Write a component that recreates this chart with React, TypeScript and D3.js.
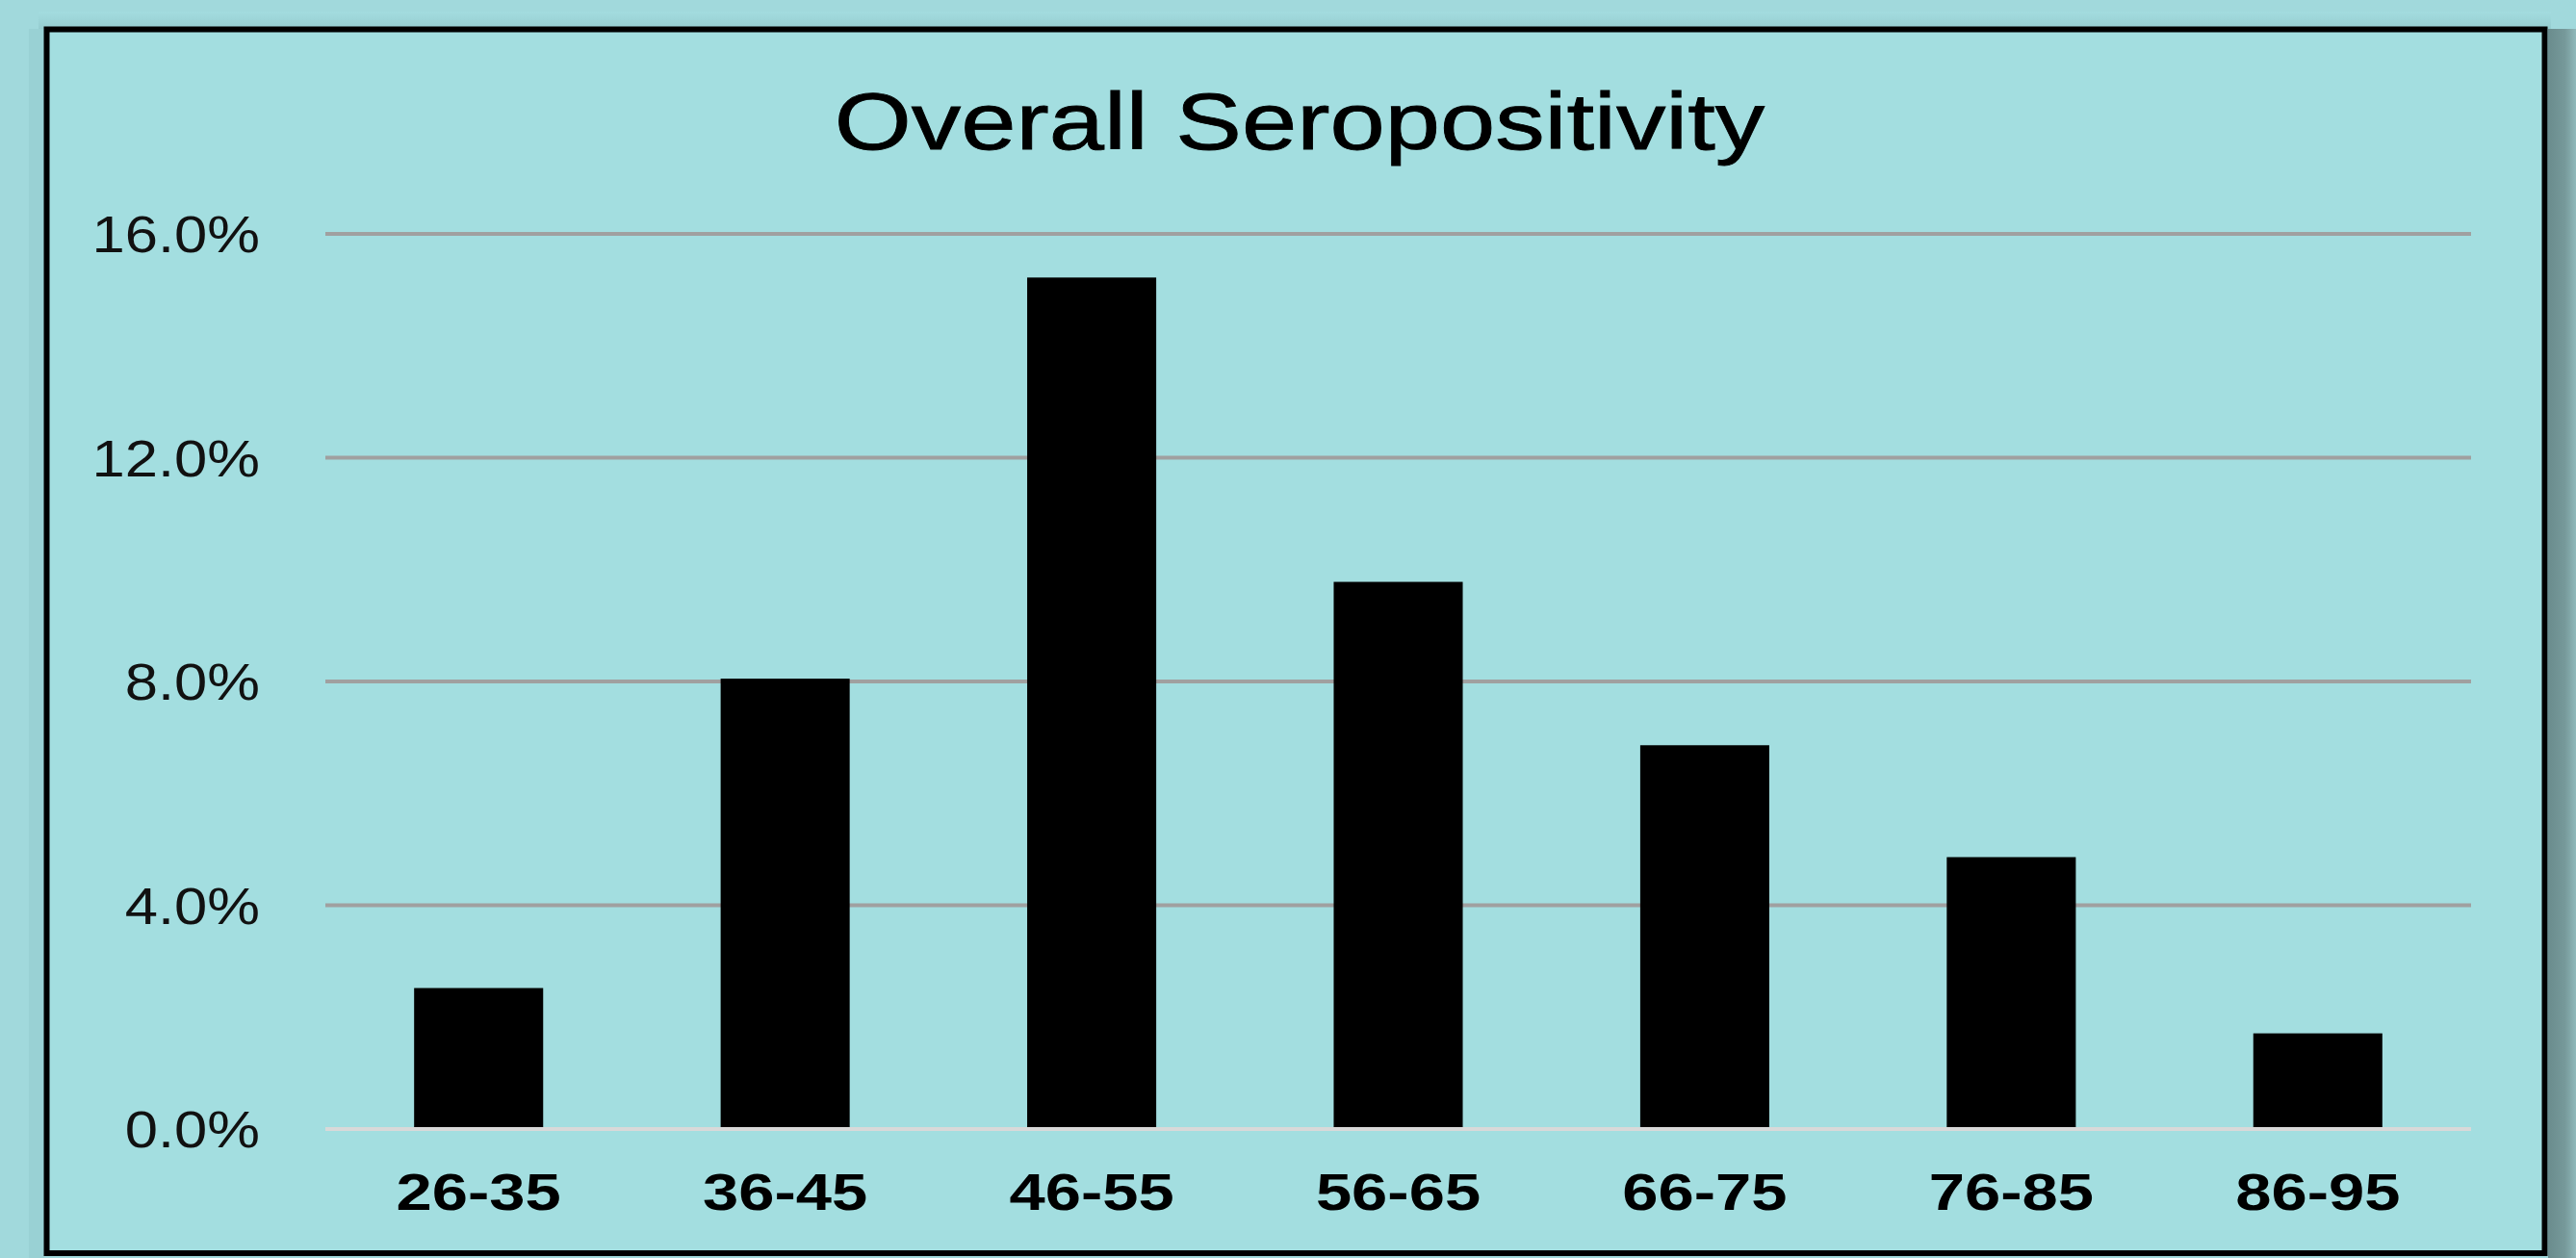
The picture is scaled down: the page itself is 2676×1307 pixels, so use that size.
import React from "react";
import * as d3 from "d3";

const categories = ["26-35", "36-45", "46-55", "56-65", "66-75", "76-85", "86-95"];
const seropositivity = [2.52, 8.05, 15.22, 9.78, 6.86, 4.86, 1.71];
const yTicks = [0, 4, 8, 12, 16];
const title = "Overall Seropositivity";

const W = 2676;
const H = 1307;
const FONT = "'Liberation Sans', Arial, Helvetica, sans-serif";
const SX = 1.24;

export default function App() {
  const x = d3
    .scaleBand<string>()
    .domain(categories)
    .range([338, 2567])
    .paddingInner(0.579)
    .paddingOuter(0.2895);
  const y = d3.scaleLinear().domain([0, 16]).range([1173, 243]);
  const fmt = (v: number) => d3.format(".1f")(v) + "%";

  return (
    <svg
      width={W}
      height={H}
      viewBox={`0 0 ${W} ${H}`}
      style={{ position: "absolute", left: 0, top: 0, display: "block" }}
    >
      <defs>
        <linearGradient id="rshadow" x1="0" x2="1" y1="0" y2="0">
          <stop offset="0" stopColor="#6a8c8d" />
          <stop offset="0.6" stopColor="#76999a" />
          <stop offset="1" stopColor="#8fb8ba" />
        </linearGradient>
        <linearGradient id="tshadow" x1="0" x2="0" y1="0" y2="1">
          <stop offset="0" stopColor="#a3dcdf" />
          <stop offset="1" stopColor="#96cdd0" />
        </linearGradient>
      </defs>
      {/* page background */}
      <rect x={0} y={0} width={W} height={H} fill="#a1d9dc" />
      <rect x={40} y={12} width={2610} height={18} fill="url(#tshadow)" />
      <rect x={30} y={30} width={16} height={H - 30} fill="#99d1d4" />
      <rect x={2647} y={30} width={W - 2647} height={H - 30} fill="url(#rshadow)" />
      {/* chart box */}
      <rect
        x={48.5}
        y={30.5}
        width={2643.5 - 48.5}
        height={1302 - 30.5}
        fill="#a3dee0"
        stroke="#000"
        strokeWidth={6}
      />
      {/* title */}
      <text
        transform={`translate(1350,155) scale(${SX},1)`}
        textAnchor="middle"
        fontFamily={FONT}
        fontSize={83}
        fill="#000"
        stroke="#000"
        strokeWidth={0.8}
      >
        {title}
      </text>
      {/* gridlines */}
      {yTicks.map((t) => (
        <line
          key={"g" + t}
          x1={338}
          x2={2567}
          y1={y(t)}
          y2={y(t)}
          stroke={t === 0 ? "#d9d9d9" : "#a0a0a0"}
          strokeWidth={4}
        />
      ))}
      {/* y labels */}
      {yTicks.map((t) => (
        <text
          key={"yl" + t}
          transform={`translate(270,${y(t) + 19}) scale(1.14,1)`}
          textAnchor="end"
          fontFamily={FONT}
          fontSize={54}
          fill="#111"
        >
          {fmt(t)}
        </text>
      ))}
      {/* bars */}
      {categories.map((c, i) => (
        <rect
          key={"b" + c}
          x={x(c)}
          y={y(seropositivity[i])}
          width={x.bandwidth()}
          height={y(0) - y(seropositivity[i]) - 2}
          fill="#000"
        />
      ))}
      {/* x labels */}
      {categories.map((c) => (
        <text
          key={"xl" + c}
          transform={`translate(${(x(c) as number) + x.bandwidth() / 2},1257) scale(${SX},1)`}
          textAnchor="middle"
          fontFamily={FONT}
          fontSize={54}
          fontWeight="bold"
          fill="#000"
        >
          {c}
        </text>
      ))}
    </svg>
  );
}
